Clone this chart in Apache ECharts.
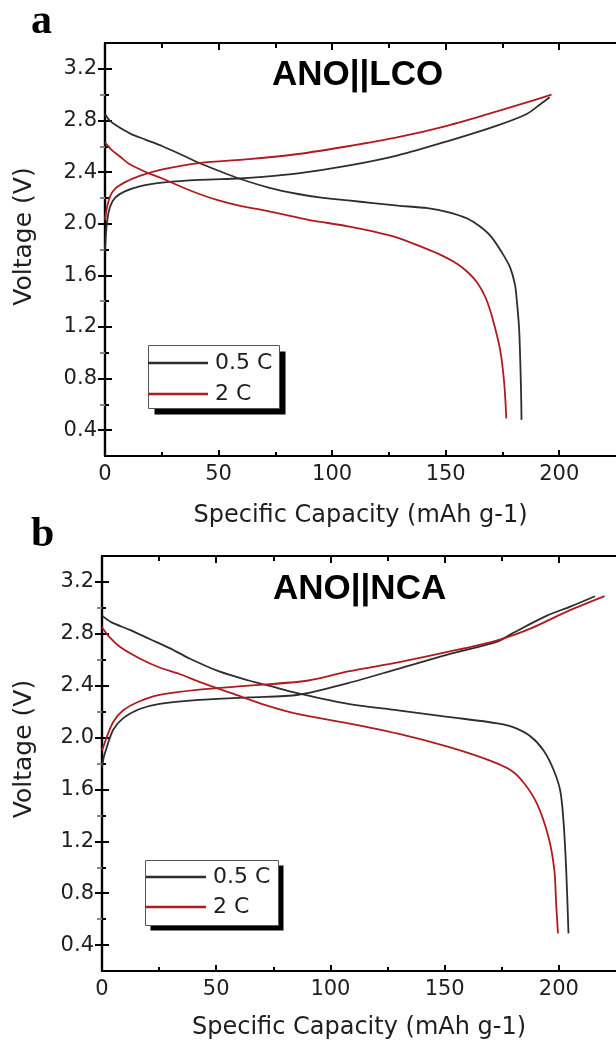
<!DOCTYPE html>
<html>
<head>
<meta charset="utf-8">
<script src="https://cdn.jsdelivr.net/npm/echarts@6/dist/echarts.min.js"></script>
<style>
html,body{margin:0;padding:0;background:#fff;overflow:hidden;}
#c{width:616px;height:1051px;}
</style>
</head>
<body>
<div id="c"></div>
<script>
// ---- tick values ----
var xMajorTicks = [0, 50, 100, 150, 200];
var xMinorTicks = [25, 75, 125, 175];
var yMajorTicks = [0.4, 0.8, 1.2, 1.6, 2.0, 2.4, 2.8, 3.2];
var yMinorTicks = [0.6, 1.0, 1.4, 1.8, 2.2, 2.6, 3.0];
var seriesNames = ['0.5 C', '2 C'];
var panelTitles = ['ANO||LCO', 'ANO||NCA'];
var panelLetters = ['a', 'b'];

// ---- panel a : ANO||LCO ----
var lco05DisX = [0, 2, 5, 10.9, 18, 25.3, 33, 41.5, 50, 59, 72, 85, 96, 107, 118, 129, 142, 151, 159.5, 165, 170, 175, 178.4, 180.5, 181.3, 182.3, 182.7, 183.2, 183.4];
var lco05DisY = [2.85, 2.80, 2.76, 2.70, 2.65, 2.60, 2.54, 2.47, 2.41, 2.35, 2.28, 2.23, 2.20, 2.18, 2.16, 2.14, 2.12, 2.09, 2.04, 1.98, 1.90, 1.77, 1.66, 1.53, 1.41, 1.20, 1.02, 0.70, 0.48];
var lco05ChgX = [0, 0.8, 2.2, 4.4, 8.7, 15.3, 26.2, 41.5, 59, 67.7, 85, 107, 129, 151, 172.6, 185.7, 192, 195.8];
var lco05ChgY = [1.79, 2.00, 2.13, 2.20, 2.25, 2.29, 2.32, 2.34, 2.35, 2.36, 2.39, 2.45, 2.53, 2.64, 2.76, 2.85, 2.93, 2.98];
var lco2DisX = [0, 3, 6.6, 10.9, 18, 25.3, 33, 41.5, 50, 59, 68, 76.5, 89.6, 107, 118, 129, 138, 146.4, 155, 160, 164, 167.5, 170.4, 174, 175.8, 176.7];
var lco2DisY = [2.63, 2.57, 2.52, 2.46, 2.40, 2.35, 2.29, 2.23, 2.18, 2.14, 2.11, 2.08, 2.03, 1.98, 1.94, 1.89, 1.83, 1.77, 1.69, 1.62, 1.54, 1.43, 1.28, 1.02, 0.76, 0.49];
var lco2ChgX = [0, 0.8, 2.2, 4.4, 8.7, 15.3, 25.3, 41.5, 63.4, 85, 107, 129, 151, 172.6, 185.7, 196.6];
var lco2ChgY = [2.03, 2.12, 2.21, 2.27, 2.32, 2.37, 2.42, 2.47, 2.50, 2.54, 2.60, 2.67, 2.76, 2.87, 2.94, 3.00];

// ---- panel b : ANO||NCA ----
var nca05DisX = [0, 4, 12.2, 20.9, 29.6, 38.3, 51.3, 64.3, 77.4, 86, 107.8, 129.6, 151.3, 173, 180, 187.5, 193.3, 197.7, 200.6, 202, 203.2, 204.2];
var nca05DisY = [2.94, 2.89, 2.83, 2.76, 2.69, 2.61, 2.51, 2.44, 2.38, 2.34, 2.26, 2.21, 2.16, 2.11, 2.08, 2.01, 1.90, 1.75, 1.59, 1.36, 0.98, 0.49];
var nca05ChgX = [0, 0.8, 2, 4.9, 9.3, 16.5, 25.2, 42.6, 64.3, 86, 107.8, 129.6, 151.3, 173, 180.3, 194.8, 205, 215.8];
var nca05ChgY = [1.77, 1.85, 1.92, 2.06, 2.15, 2.22, 2.26, 2.29, 2.31, 2.33, 2.42, 2.53, 2.64, 2.74, 2.81, 2.94, 3.01, 3.09];
var nca2DisX = [0, 3, 7.8, 16.5, 25.2, 33.9, 42.6, 57, 71.6, 86, 107.8, 129.6, 151.3, 168.7, 178.8, 184.7, 190.4, 195.5, 198, 198.8, 199.6];
var nca2DisY = [2.85, 2.78, 2.70, 2.61, 2.54, 2.49, 2.43, 2.34, 2.25, 2.18, 2.11, 2.03, 1.93, 1.83, 1.75, 1.65, 1.49, 1.23, 0.98, 0.72, 0.49];
var nca2ChgX = [0, 0.8, 2, 4.9, 9.3, 16.5, 25.2, 42.6, 64.3, 90.4, 107.8, 129.6, 151.3, 173, 187.5, 202, 220];
var nca2ChgY = [1.90, 1.94, 2.00, 2.12, 2.21, 2.28, 2.33, 2.37, 2.40, 2.44, 2.51, 2.58, 2.66, 2.75, 2.84, 2.96, 3.09];

function zip(xs, ys) { return xs.map(function (x, i) { return [x, ys[i]]; }); }

var BLACK = '#2e2e2e', RED = '#ae1b21';
var LBL = { fontFamily: 'DejaVu Sans', fontSize: 21, color: '#1e1e1e' };

var grids = [
  { left: 105, top: 43, width: 515, height: 413 },
  { left: 102, top: 556, width: 517.5, height: 415 }
];

var xAxes = [], yAxes = [];
grids.forEach(function (g, gi) {
  var lineOn = { show: true, lineStyle: { color: '#000', width: 2.2 } };
  var lineOff = { show: false };
  xAxes.push({ gridIndex: gi, type: 'value', position: 'bottom', min: 0, max: 225,
    axisLine: lineOn, splitLine: { show: false },
    axisTick: { show: true, inside: true, length: 6, customValues: xMajorTicks, lineStyle: { color: '#000', width: 2 } },
    axisLabel: { show: true, customValues: xMajorTicks, margin: 8, fontFamily: LBL.fontFamily, fontSize: LBL.fontSize, color: LBL.color },
    name: 'Specific Capacity (mAh g-1)', nameLocation: 'middle', nameGap: gi === 0 ? 48 : 45,
    nameTextStyle: { fontFamily: 'DejaVu Sans', fontSize: 24, color: '#1e1e1e' } });
  xAxes.push({ gridIndex: gi, type: 'value', position: 'bottom', min: 0, max: 225,
    axisLine: lineOff, splitLine: { show: false }, axisLabel: { show: false },
    axisTick: { show: true, inside: true, length: 4, customValues: xMinorTicks, lineStyle: { color: '#000', width: 2 } } });
  xAxes.push({ gridIndex: gi, type: 'value', position: 'top', min: 0, max: 225,
    axisLine: lineOn, splitLine: { show: false }, axisLabel: { show: false },
    axisTick: { show: true, inside: true, length: 7, customValues: xMajorTicks, lineStyle: { color: '#000', width: 2 } } });
  xAxes.push({ gridIndex: gi, type: 'value', position: 'top', min: 0, max: 225,
    axisLine: lineOff, splitLine: { show: false }, axisLabel: { show: false },
    axisTick: { show: true, inside: true, length: 5, customValues: xMinorTicks, lineStyle: { color: '#000', width: 2 } } });

  yAxes.push({ gridIndex: gi, type: 'value', position: 'left', min: 0.2, max: 3.4,
    axisLine: lineOn, splitLine: { show: false },
    axisTick: { show: true, inside: true, length: 7, customValues: yMajorTicks, lineStyle: { color: '#000', width: 2 } },
    axisLabel: { show: true, customValues: yMajorTicks, margin: 8, fontFamily: LBL.fontFamily, fontSize: LBL.fontSize, color: LBL.color,
      formatter: function (v) { return Number(v).toFixed(1); } },
    name: 'Voltage (V)', nameLocation: 'middle', nameGap: gi === 0 ? 68 : 65, nameRotate: 90,
    nameTextStyle: { fontFamily: 'DejaVu Sans', fontSize: 25, color: '#1e1e1e', padding: gi === 0 ? [0, 0, 0, 26] : [0, 0, 0, 29] } });
  yAxes.push({ gridIndex: gi, type: 'value', position: 'left', min: 0.2, max: 3.4,
    axisLine: lineOff, splitLine: { show: false }, axisLabel: { show: false },
    axisTick: { show: true, inside: true, length: 4, customValues: yMinorTicks, lineStyle: { color: '#000', width: 2 } } });
  yAxes.push({ gridIndex: gi, type: 'value', position: 'right', min: 0.2, max: 3.4,
    axisLine: lineOn, splitLine: { show: false }, axisLabel: { show: false },
    axisTick: { show: true, inside: true, length: 7, customValues: yMajorTicks, lineStyle: { color: '#000', width: 2 } } });
  yAxes.push({ gridIndex: gi, type: 'value', position: 'right', min: 0.2, max: 3.4,
    axisLine: lineOff, splitLine: { show: false }, axisLabel: { show: false },
    axisTick: { show: true, inside: true, length: 5, customValues: yMinorTicks, lineStyle: { color: '#888', width: 2 } } });
});

function mkSeries(name, color, gi, xs, ys) {
  return { type: 'line', name: name, xAxisIndex: gi * 4, yAxisIndex: gi * 4,
    data: zip(xs, ys), showSymbol: false, symbol: 'none', smooth: 0.3,
    lineStyle: { color: color, width: 1.8 }, itemStyle: { color: color }, clip: true, silent: true, animation: false };
}

var series = [
  mkSeries(seriesNames[0], BLACK, 0, lco05DisX, lco05DisY),
  mkSeries(seriesNames[0], BLACK, 0, lco05ChgX, lco05ChgY),
  mkSeries(seriesNames[1], RED, 0, lco2DisX, lco2DisY),
  mkSeries(seriesNames[1], RED, 0, lco2ChgX, lco2ChgY),
  mkSeries(seriesNames[0], BLACK, 1, nca05DisX, nca05DisY),
  mkSeries(seriesNames[0], BLACK, 1, nca05ChgX, nca05ChgY),
  mkSeries(seriesNames[1], RED, 1, nca2DisX, nca2DisY),
  mkSeries(seriesNames[1], RED, 1, nca2ChgX, nca2ChgY)
];

function mkLegend(left, top, gap) {
  return { show: true, orient: 'vertical', left: left, top: top, data: seriesNames, selectedMode: false,
    icon: 'rect', itemWidth: 60, itemHeight: 2.5, itemGap: gap, padding: 0,
    textStyle: { fontFamily: 'DejaVu Sans', fontSize: 22, color: '#1e1e1e', lineHeight: 24, padding: [0, 0, 0, 2] } };
}

// legend frame (box + drop shadow)
function frame(x, y, w, h, off) {
  return [
    { type: 'rect', z: 1, shape: { x: x + off, y: y + off, width: w, height: h }, style: { fill: '#000' } },
    { type: 'rect', z: 1, shape: { x: x, y: y, width: w, height: h }, style: { fill: '#fff', stroke: '#555', lineWidth: 1 } }
  ];
}

var option = {
  animation: false,
  backgroundColor: '#fff',
  grid: grids,
  xAxis: xAxes,
  yAxis: yAxes,
  legend: [mkLegend(148, 351, 7), mkLegend(146, 865, 6)],
  graphic: [].concat(
    frame(148.5, 345.5, 131, 63, 6),
    frame(145.5, 860.5, 133, 65, 5),
    [
      { type: 'text', x: 31, y: 22, style: { text: panelLetters[0], fill: '#000', font: 'bold 42px "Liberation Serif"', verticalAlign: 'middle' } },
      { type: 'text', x: 31, y: 535, style: { text: panelLetters[1], fill: '#000', font: 'bold 42px "Liberation Serif"', verticalAlign: 'middle' } },
      { type: 'text', x: 272, y: 75, style: { text: panelTitles[0], fill: '#000', font: 'bold 35px "Liberation Sans"', verticalAlign: 'middle' } },
      { type: 'text', x: 273, y: 589, style: { text: panelTitles[1], fill: '#000', font: 'bold 35px "Liberation Sans"', verticalAlign: 'middle' } }
    ]),
  series: series
};

var chart = echarts.init(document.getElementById('c'), null, { renderer: 'canvas' });
chart.setOption(option);
</script>
</body>
</html>
